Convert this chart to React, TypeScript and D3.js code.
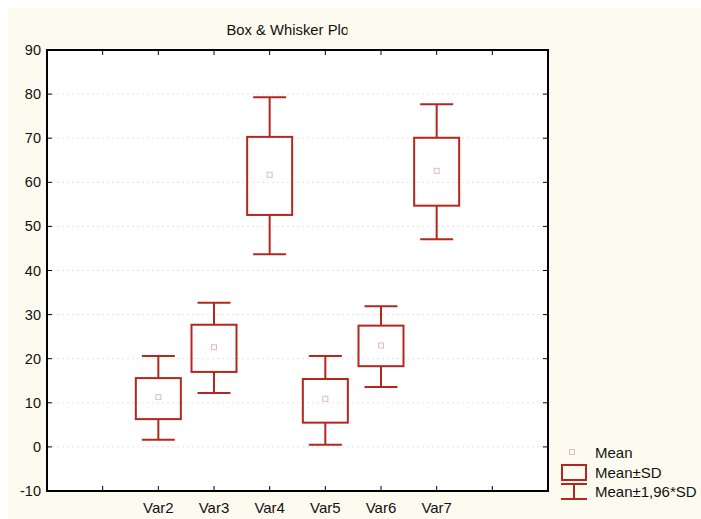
import React from "react";
import * as d3 from "d3";

const categories = ["Var2", "Var3", "Var4", "Var5", "Var6", "Var7"];
const means = [11.3, 22.6, 61.7, 10.9, 23.0, 62.6];
const sdLow = [6.3, 17.0, 52.6, 5.5, 18.3, 54.7];
const sdHigh = [15.6, 27.7, 70.3, 15.4, 27.5, 70.1];
const ciLow = [1.6, 12.2, 43.7, 0.5, 13.6, 47.1];
const ciHigh = [20.6, 32.7, 79.3, 20.6, 31.9, 77.7];
const yTicks = [-10, 0, 10, 20, 30, 40, 50, 60, 70, 80, 90];
const gridTicks = [0, 10, 20, 30, 40, 50, 60, 70, 80];
const xTickSlots = [1, 2, 3, 4, 5, 6, 7, 8];
const legendLabels = ["Mean", "Mean±SD", "Mean±1,96*SD"];
const title = "Box & Whisker Plot";

const RED = "#b3271f";
const PINK = "#e9b8b8";
const FONT = "'Liberation Sans', Arial, sans-serif";

export default function App() {
  const L = 47, R = 548, T = 50, B = 491;
  const x = d3.scaleLinear().domain([0, 9]).range([L, R]);
  const y = d3.scaleLinear().domain([-10, 90]).range([B, T]);
  const boxW = 45, capW = 33, mk = 5;

  return (
    <svg width={701} height={519} style={{ position: "absolute", left: 0, top: 0 }}>
      <defs>
        <clipPath id="titleClip">
          <rect x={0} y={0} width={347.5} height={50} />
        </clipPath>
      </defs>
      <rect x={8} y={8} width={693} height={511} fill="#fdfbef" />
      <rect x={L} y={T} width={R - L} height={B - T} fill="#ffffff" />
      {gridTicks.map((t) => (
        <line key={"g" + t} x1={L} x2={R} y1={y(t)} y2={y(t)} stroke="#e4e4e4" strokeWidth={1} strokeDasharray="2,3" />
      ))}
      <g clipPath="url(#titleClip)">
        <text x={226.5} y={35} fontFamily={FONT} fontSize={14.8} textAnchor="start" fill="#111">
          {title}
        </text>
      </g>
      {categories.map((c, i) => {
        const cx = x(i + 2);
        return (
          <g key={c}>
            <line x1={cx} x2={cx} y1={y(ciHigh[i])} y2={y(sdHigh[i])} stroke={RED} strokeWidth={2} />
            <line x1={cx} x2={cx} y1={y(sdLow[i])} y2={y(ciLow[i])} stroke={RED} strokeWidth={2} />
            <line x1={cx - capW / 2} x2={cx + capW / 2} y1={y(ciHigh[i])} y2={y(ciHigh[i])} stroke={RED} strokeWidth={2} />
            <line x1={cx - capW / 2} x2={cx + capW / 2} y1={y(ciLow[i])} y2={y(ciLow[i])} stroke={RED} strokeWidth={2} />
            <rect x={cx - boxW / 2} y={y(sdHigh[i])} width={boxW} height={y(sdLow[i]) - y(sdHigh[i])} fill="none" stroke={RED} strokeWidth={2} />
            <rect x={cx - mk / 2} y={y(means[i]) - mk / 2} width={mk} height={mk} fill="none" stroke={PINK} strokeWidth={1} />
          </g>
        );
      })}
      <rect x={L} y={T} width={R - L} height={B - T} fill="none" stroke="#000" strokeWidth={2} />
      {yTicks.map((t) => (
        <g key={"y" + t}>
          <line x1={L} x2={L + 5} y1={y(t)} y2={y(t)} stroke="#000" strokeWidth={1} />
          <line x1={R - 5} x2={R} y1={y(t)} y2={y(t)} stroke="#000" strokeWidth={1} />
          <text x={41} y={y(t) + 5} fontFamily={FONT} fontSize={14.5} textAnchor="end" fill="#111">
            {t}
          </text>
        </g>
      ))}
      {xTickSlots.map((s) => (
        <g key={"x" + s}>
          <line x1={x(s)} x2={x(s)} y1={T} y2={T + 5} stroke="#000" strokeWidth={1} />
          <line x1={x(s)} x2={x(s)} y1={B - 5} y2={B} stroke="#000" strokeWidth={1} />
        </g>
      ))}
      {categories.map((c, i) => (
        <text key={"l" + c} x={x(i + 2)} y={513} fontFamily={FONT} fontSize={15} textAnchor="middle" fill="#111">
          {c}
        </text>
      ))}
      <g>
        <rect x={572 - mk / 2} y={452 - mk / 2} width={mk} height={mk} fill="none" stroke={PINK} strokeWidth={1} />
        <text x={595} y={458} fontFamily={FONT} fontSize={15} fill="#111">{legendLabels[0]}</text>
        <rect x={562} y={465} width={24} height={15} fill="none" stroke={RED} strokeWidth={2} />
        <text x={595} y={478} fontFamily={FONT} fontSize={15} fill="#111">{legendLabels[1]}</text>
        <line x1={561} x2={587} y1={484} y2={484} stroke={RED} strokeWidth={2} />
        <line x1={574} x2={574} y1={484} y2={499} stroke={RED} strokeWidth={2} />
        <line x1={561} x2={587} y1={499} y2={499} stroke={RED} strokeWidth={2} />
        <text x={595} y={497} fontFamily={FONT} fontSize={15} fill="#111">{legendLabels[2]}</text>
      </g>
    </svg>
  );
}
